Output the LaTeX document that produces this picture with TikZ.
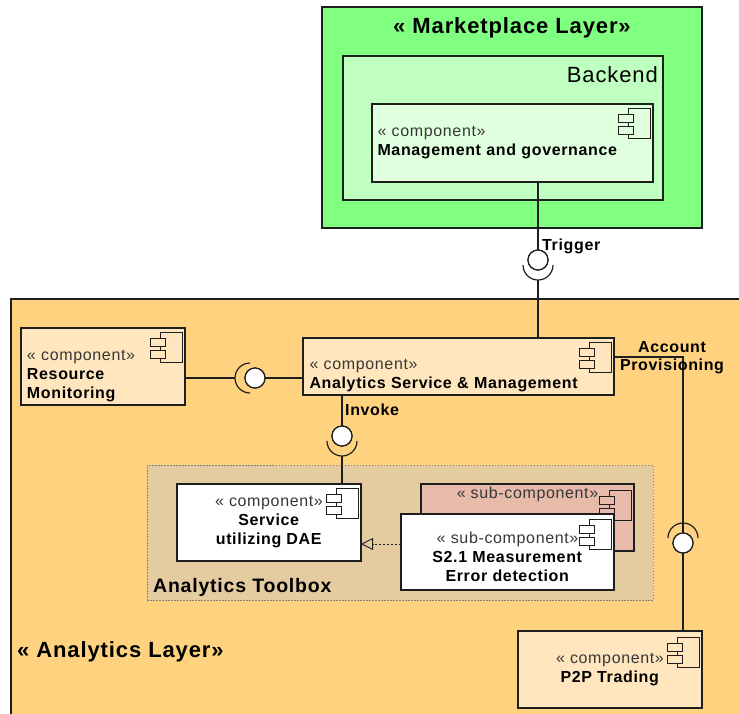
\documentclass[tikz,border=0pt]{standalone}
\usepackage{fontspec}
\setmainfont{Liberation Sans}[LetterSpace=4]
\usetikzlibrary{arrows.meta}

\definecolor{mpgreen}{RGB}{128,255,128}
\definecolor{bkgreen}{RGB}{191,255,191}
\definecolor{mggreen}{RGB}{223,255,223}
\definecolor{anorange}{RGB}{255,210,128}
\definecolor{compfill}{RGB}{255,230,191}
\definecolor{tbfill}{RGB}{229,204,160}
\definecolor{subfill}{RGB}{232,186,170}
\definecolor{linecol}{RGB}{30,30,30}
\definecolor{stereocol}{RGB}{55,55,55}

\newcommand{\stype}[1]{{\color{stereocol}« #1»}}

\tikzset{
  box/.style={draw=linecol, line width=1.3pt, anchor=north west, inner sep=0pt, outer sep=0pt},
  comp/.style={box, font=\fontsize{16}{19}\selectfont},
  conn/.style={draw=linecol, line width=1.2pt},
  ball/.style={circle, draw=linecol, fill=white, line width=1.2pt, minimum size=20pt, inner sep=0pt, outer sep=0pt},
  lbl/.style={font=\bfseries\fontsize{16}{18}\selectfont, inner sep=0pt},
  title/.style={font=\bfseries\fontsize{22}{26}\selectfont, inner sep=0pt},
  realize/.style={draw=linecol, line width=0.9pt, dash pattern=on 2pt off 2pt,
    -{Triangle[open, length=12pt, width=12pt, line width=0.9pt]}},
  pics/compicon/.style={code={
    \draw[line width=1pt, draw=linecol, fill=#1] (-22,0) rectangle (0,30);
    \draw[line width=1pt, draw=linecol, fill=#1] (-32,6) rectangle (-17,14);
    \draw[line width=1pt, draw=linecol, fill=#1] (-32,18) rectangle (-17,26);
  }}
}

\begin{document}
\begin{tikzpicture}[x=1pt,y=-1pt]

\useasboundingbox (0,0) rectangle (739,713);
\clip (0,0) rectangle (739,713);

% Marktplatz-Schicht oben
\node[box, fill=mpgreen, minimum width=380pt, minimum height=221pt] (mplayer) at (322,7) {};
\node[title, anchor=base] (mptitle) at (512,33) {« Marketplace Layer»};
\node[box, fill=bkgreen, minimum width=320pt, minimum height=144pt] (backend) at (343,56) {};
\node[anchor=base east, inner sep=0pt, font=\fontsize{22}{26}\selectfont] (bktitle) at (658,82) {Backend};

% Komponente Management
\node[comp, fill=mggreen, minimum width=281pt, minimum height=78pt, text width=270pt, align=left] (mgmt) at (372,104)
  {\stype{component}\\\textbf{Management and governance}};
\pic at ([xshift=-3pt,yshift=-4pt]mgmt.north east) {compicon=mggreen};

% Analytics-Schicht unten
\node[box, fill=anorange, minimum width=740pt, minimum height=430pt] (anlayer) at (11,299) {};
\node[title, anchor=base west] (antitle) at (17,657) {« Analytics Layer»};

% Toolbox
\node[box, draw=gray, line width=0.8pt, dash pattern=on 1.5pt off 1.5pt, fill=tbfill,
  minimum width=506pt, minimum height=135pt] (toolbox) at (147,465) {};
\node[anchor=base west, inner sep=0pt, font=\bfseries\fontsize{19.5}{23}\selectfont] (tbtitle) at (153,592) {Analytics Toolbox};

% Komponenten links und in der Mitte
\node[comp, fill=compfill, minimum width=164pt, minimum height=77pt, text width=152pt, align=left] (resmon) at (21,328)
  {\rule{0pt}{30pt}\stype{component}\\\textbf{Resource}\\\textbf{Monitoring}};
\pic at ([xshift=-3pt,yshift=-4pt]resmon.north east) {compicon=compfill};

\node[comp, fill=compfill, minimum width=311pt, minimum height=57pt, text width=298pt, align=left] (asm) at (303,338)
  {\rule{0pt}{29pt}\stype{component}\\\textbf{Analytics Service \& Management}};
\pic at ([xshift=-3pt,yshift=-4pt]asm.north east) {compicon=compfill};

\node[comp, fill=white, minimum width=184pt, minimum height=77pt, align=center] (sdae) at (177,484)
  {\stype{component}\\\textbf{Service}\\\textbf{utilizing DAE}};
\pic at ([xshift=-3pt,yshift=-4pt]sdae.north east) {compicon=white};

% Sub-Komponenten (hinten, vorne)
\node[comp, fill=subfill, minimum width=213pt, minimum height=67pt] (subback) at (421,484) {};
\pic at ([xshift=-3pt,yshift=-6pt]subback.north east) {compicon=subfill};
\node[anchor=north, inner sep=0pt, font=\fontsize{16}{19}\selectfont] (subbacktxt) at ([yshift=-3pt]subback.north) {\stype{sub-component}};

\node[comp, fill=white, minimum width=213pt, minimum height=76pt, text width=205pt, align=center] (subfront) at (401,514)
  {\rule{0pt}{22pt}\stype{sub-component}\\\textbf{S2.1 Measurement}\\\textbf{Error detection}};
\pic at ([xshift=-3pt,yshift=-5pt]subfront.north east) {compicon=white};

% P2P unten rechts
\node[comp, fill=compfill, minimum width=184pt, minimum height=77pt, align=center] (p2p) at (518,631)
  {\stype{component}\\\textbf{P2P Trading}};
\pic at ([xshift=-3pt,yshift=-6pt]p2p.north east) {compicon=compfill};

% Schnittstellen (Kugeln)
\node[ball] (trigball) at (538,260) {};
\node[ball] (rmball) at (255,378) {};
\node[ball] (invball) at (342,436) {};
\node[ball] (apball) at (683,543) {};
\coordinate (apcorner) at (683,357);

% Verbindungen
\draw[conn] (mgmt.south -| trigball) -- (trigball);
\draw[conn] ([yshift=-20pt]trigball.center) -- (trigball |- asm.north);
\draw[conn] (rmball -| resmon.east) -- ([xshift=-20pt]rmball.center);
\draw[conn] (rmball) -- (rmball -| asm.west);
\draw[conn] (asm.south -| invball) -- (invball);
\draw[conn] ([yshift=-20pt]invball.center) -- (invball |- sdae.north);
\draw[conn] (asm.east |- apcorner) -- (apcorner) -- (apball);
\draw[conn] (apball) -- (apball |- p2p.north);

% Sockets
\draw[conn] ([yshift=-5pt]trigball.center) ++(180:15pt) arc[start angle=180, end angle=360, radius=15pt];
\draw[conn] ([xshift=-5pt]rmball.center) ++(90:15pt) arc[start angle=90, end angle=270, radius=15pt];
\draw[conn] ([yshift=-5pt]invball.center) ++(180:15pt) arc[start angle=180, end angle=360, radius=15pt];
\draw[conn] ([yshift=5pt]apball.center) ++(0:15pt) arc[start angle=0, end angle=180, radius=15pt];
\node[ball] at (trigball) {};
\node[ball] at (rmball) {};
\node[ball] at (invball) {};
\node[ball] at (apball) {};

% Realisierung
\draw[realize] ([yshift=8pt]subfront.west) -- ([yshift=8pt]subfront.west -| sdae.east);

% Beschriftungen
\node[lbl, anchor=base west] (triglbl) at (542,250) {Trigger};
\node[lbl, anchor=base west] (invlbl) at (345,415) {Invoke};
\node[lbl, anchor=north, align=center] (aplbl) at (672,341) {Account\\Provisioning};

\end{tikzpicture}
\end{document}
